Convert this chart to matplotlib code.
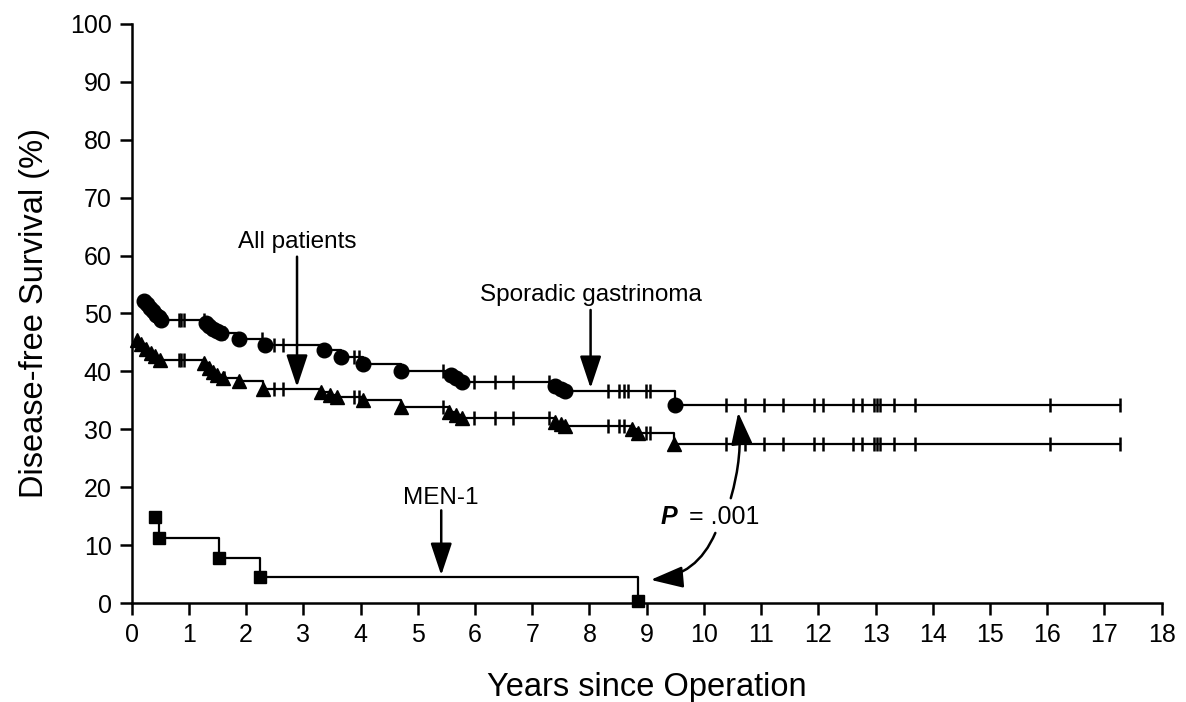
import numpy as np
import matplotlib.pyplot as plt
from matplotlib.patches import FancyArrowPatch

plt.rcParams['font.family'] = ['Liberation Sans', 'DejaVu Sans']

# Sporadic gastrinoma: event times (years), survival after each event (%), censored times
spor_t = [0.22, 0.27, 0.32, 0.37, 0.42, 0.47, 0.52,
          1.30, 1.36, 1.42, 1.50, 1.57, 1.88, 2.33,
          3.37, 3.65, 4.04, 4.71, 5.58, 5.66, 5.78,
          7.40, 7.50, 7.58, 9.50]
spor_s = [52.1, 51.6, 51.0, 50.4, 49.8, 49.3, 48.8,
          48.3, 47.8, 47.4, 47.0, 46.6, 45.6, 44.6,
          43.7, 42.4, 41.3, 40.1, 39.3, 38.8, 38.1,
          37.5, 37.0, 36.6, 34.2]
spor_cens = [0.82, 0.87, 0.92, 1.27, 1.62, 2.27, 2.49, 2.65, 3.89, 3.97,
             5.44, 5.98, 6.35, 6.66, 7.29, 8.32, 8.52, 8.60, 8.68, 8.98, 9.05,
             10.39, 10.72, 11.05, 11.39, 11.93, 12.08, 12.61, 12.76, 12.97,
             13.02, 13.08, 13.32, 13.69, 16.04, 17.28]

# All patients
all_t = [0.09, 0.17, 0.25, 0.33, 0.41, 0.49,
         1.27, 1.35, 1.42, 1.50, 1.60, 1.88, 2.30,
         3.31, 3.46, 3.58, 4.04, 4.71, 5.55, 5.66, 5.78,
         7.40, 7.50, 7.58, 8.75, 8.84, 9.47]
all_s = [45.5, 44.7, 43.9, 43.2, 42.6, 42.0,
         41.4, 40.6, 39.9, 39.4, 38.9, 38.4, 37.0,
         36.4, 35.9, 35.5, 35.0, 33.9, 33.0, 32.5, 32.0,
         31.3, 30.9, 30.6, 30.0, 29.4, 27.4]
all_cens = [0.82, 0.87, 0.92, 1.62, 2.49, 2.65, 3.89, 3.97,
            5.44, 5.98, 6.35, 6.66, 7.29, 8.32, 8.52, 8.60, 8.98, 9.05,
            10.39, 10.72, 11.05, 11.39, 11.93, 12.08, 12.61, 12.76, 12.97,
            13.02, 13.08, 13.32, 13.69, 16.04, 17.28]

# MEN-1
men_t = [0.41, 0.47, 1.52, 2.24, 8.84]
men_s = [14.9, 11.2, 7.7, 4.5, 0.3]

xticks = list(range(0, 19))
yticks = list(range(0, 101, 10))


def km(ax, t, s, cens, end, marker, ms):
    x = list(t) + [end]
    y = list(s) + [s[-1]]
    ax.plot(x, y, drawstyle='steps-post', color='k', lw=1.6, clip_on=False)
    ax.plot(t, s, ls='none', marker=marker, ms=ms, color='k', clip_on=False)
    if cens:
        idx = np.searchsorted(t, cens, side='right') - 1
        ax.plot(cens, np.array(s)[idx], ls='none', marker='|', ms=10.5,
                mew=1.8, color='k', clip_on=False)


fig = plt.figure(figsize=(11.86, 7.02), dpi=100)
ax = fig.add_axes([0.111, 0.141, 0.8685, 0.825])

km(ax, spor_t, spor_s, spor_cens, spor_cens[-1], 'o', 10.5)
km(ax, all_t, all_s, all_cens, all_cens[-1], '^', 10.5)
km(ax, men_t, men_s, [], men_t[-1], 's', 9)

ax.set_xlim(0, 18)
ax.set_ylim(0, 100)
ax.set_xticks(xticks)
ax.set_yticks(yticks)
for sp in ['top', 'right']:
    ax.spines[sp].set_visible(False)
for sp in ['left', 'bottom']:
    ax.spines[sp].set_linewidth(1.8)
ax.tick_params(direction='out', length=8.5, width=1.8, labelsize=18, pad=6)
ax.set_xlabel('Years since Operation', fontsize=23.5, labelpad=18)
ax.set_ylabel('Disease-free Survival (%)', fontsize=23.5, labelpad=14)

arrow = dict(arrowstyle='-|>,head_length=0.9,head_width=0.3', color='k',
             lw=1.8, mutation_scale=22, shrinkA=0, shrinkB=0)
ax.annotate('', xy=(2.89, 37.3), xytext=(2.89, 59.8), arrowprops=arrow)
ax.text(2.89, 62.3, 'All patients', ha='center', va='center', fontsize=17.5)
ax.annotate('', xy=(8.02, 37.1), xytext=(8.02, 50.6), arrowprops=arrow)
ax.text(8.02, 53.2, 'Sporadic gastrinoma', ha='center', va='center', fontsize=17.5)
ax.annotate('', xy=(5.41, 4.8), xytext=(5.41, 16.0), arrowprops=arrow)
ax.text(5.41, 18.2, 'MEN-1', ha='center', va='center', fontsize=17.5)

ax.text(9.24, 14.9, 'P', ha='left', va='center', fontsize=18,
        fontweight='bold', style='italic')
ax.text(9.74, 14.9, '= .001', ha='left', va='center', fontsize=18)

a1 = FancyArrowPatch((10.47, 18.1), (10.6, 32.9), connectionstyle='arc3,rad=0.1',
                     arrowstyle='-|>,head_length=0.9,head_width=0.3',
                     mutation_scale=22, color='k', lw=1.8, shrinkA=0, shrinkB=0)
a2 = FancyArrowPatch((10.2, 12.1), (9.07, 4.0), connectionstyle='arc3,rad=-0.3',
                     arrowstyle='-|>,head_length=0.9,head_width=0.3',
                     mutation_scale=22, color='k', lw=1.8, shrinkA=0, shrinkB=0)
ax.add_patch(a1)
ax.add_patch(a2)

fig.savefig('out.png', dpi=100)
